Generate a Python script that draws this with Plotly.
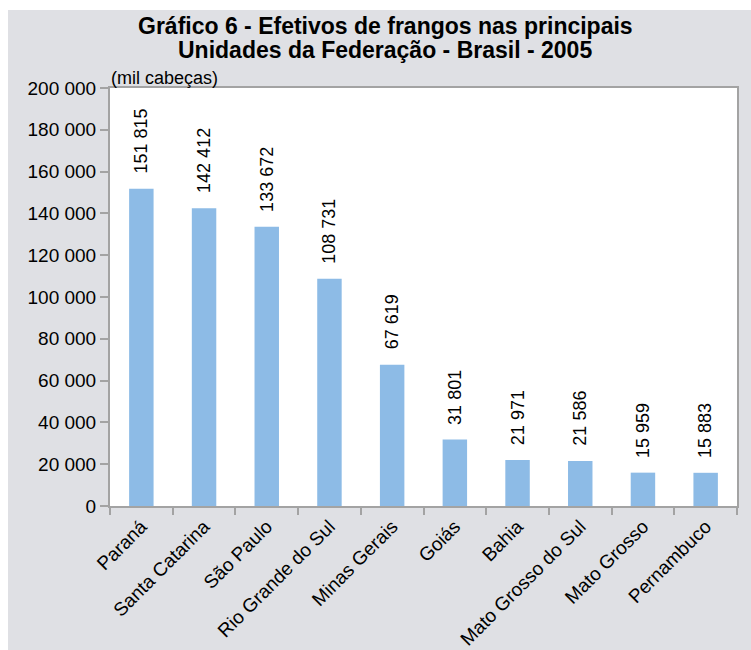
import plotly.graph_objects as go

categories = ["Paraná", "Santa Catarina", "São Paulo", "Rio Grande do Sul", "Minas Gerais",
              "Goiás", "Bahia", "Mato Grosso do Sul", "Mato Grosso", "Pernambuco"]
values = [151815, 142412, 133672, 108731, 67619, 31801, 21971, 21586, 15959, 15883]
y_ticks = [0, 20000, 40000, 60000, 80000, 100000, 120000, 140000, 160000, 180000, 200000]
title_lines = ["Gráfico 6 - Efetivos de frangos nas principais",
               "Unidades da Federação - Brasil - 2005"]
unit_label = "(mil cabeças)"

BAR = "#8dbbe6"
BG = "#dfe0e4"
LINE = "#a3a3a3"
FONT = "Liberation Sans, Arial, sans-serif"

W, H = 751, 650
L, R, T, B = 110, 14, 88, 144
pw, ph = W - L - R, H - T - B

def px_x(px):
    return (px - L) / pw

def px_y(py):
    return (H - B - py) / ph

def fmt(v):
    return f"{v:,}".replace(",", " ")

fig = go.Figure()
fig.add_trace(go.Bar(x=categories, y=values, marker=dict(color=BAR, line=dict(width=0)),
                     hoverinfo="skip"))

annotations = []
for c, v in zip(categories, values):
    annotations.append(dict(x=c, y=v, xref="x", yref="y", text=fmt(v), showarrow=False,
                            textangle=-90, yanchor="bottom", xanchor="center", yshift=13,
                            font=dict(family=FONT, size=18, color="#000000")))

annotations.append(dict(x=px_x(385), y=px_y(26), xref="paper", yref="paper", text="<b>" + title_lines[0] + "</b>",
                        showarrow=False, xanchor="center", yanchor="middle",
                        font=dict(family=FONT, size=23, color="#000000")))
annotations.append(dict(x=px_x(385), y=px_y(50), xref="paper", yref="paper", text="<b>" + title_lines[1] + "</b>",
                        showarrow=False, xanchor="center", yanchor="middle",
                        font=dict(family=FONT, size=23, color="#000000")))
annotations.append(dict(x=0, y=1, xref="paper", yref="paper", text=unit_label, showarrow=False,
                        xanchor="left", yanchor="bottom", xshift=-1, yshift=-2,
                        font=dict(family=FONT, size=18, color="#000000")))

shapes = [
    dict(type="rect", xref="paper", yref="paper", x0=px_x(-5), x1=px_x(W + 5), y0=px_y(10), y1=px_y(-5),
         fillcolor="white", line=dict(width=0), layer="below"),
    dict(type="rect", xref="paper", yref="paper", x0=px_x(-5), x1=px_x(8), y0=px_y(H + 5), y1=px_y(-5),
         fillcolor="white", line=dict(width=0), layer="below"),
]

fig.update_layout(
    width=W, height=H,
    margin=dict(l=L, r=R, t=T, b=B, pad=0, autoexpand=False),
    paper_bgcolor=BG, plot_bgcolor="white",
    separators=". ",
    bargap=0.61,
    showlegend=False,
    annotations=annotations,
    shapes=shapes,
    font=dict(family=FONT, color="#000000"),
    xaxis=dict(showline=True, linecolor=LINE, linewidth=2, mirror=True, automargin=False,
               ticks="outside", tickson="boundaries", ticklen=7, tickcolor=LINE, tickwidth=2,
               tickangle=-45, tickfont=dict(family=FONT, size=19, color="#000000"),
               showgrid=False, zeroline=False, fixedrange=True),
    yaxis=dict(range=[0, 200000], tickvals=y_ticks, ticktext=[fmt(t) for t in y_ticks],
               showline=True, linecolor=LINE, linewidth=2, mirror=True, automargin=False,
               ticks="outside", ticklen=8, tickcolor=LINE, tickwidth=2,
               tickfont=dict(family=FONT, size=19, color="#000000"),
               showgrid=False, zeroline=False, fixedrange=True),
)

fig.write_html("out.html")
